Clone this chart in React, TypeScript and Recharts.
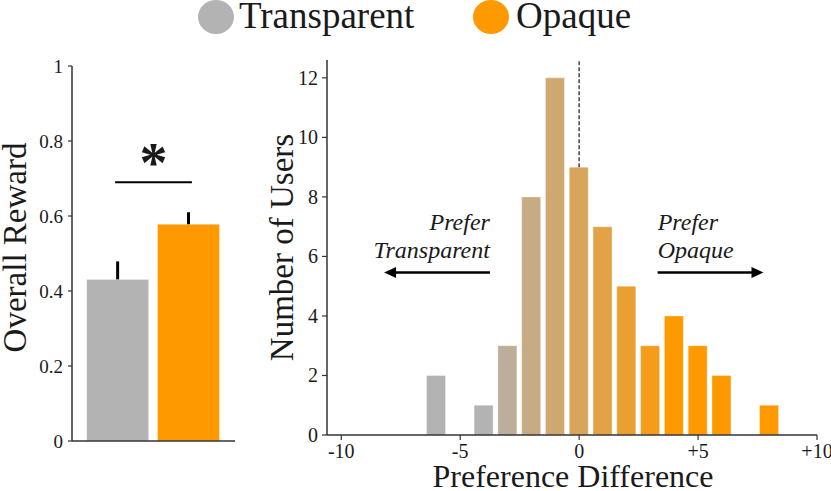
import React from 'react';
import {
  BarChart,
  Bar,
  XAxis,
  YAxis,
  Cell,
  ErrorBar,
  ReferenceLine,
  ReferenceDot,
  Label,
} from 'recharts';

// ---------- Left panel data ----------
const rewardConditions = ['Transparent', 'Opaque'];
const rewardPositions = [0, 1];
const rewardMeans = [0.431, 0.578];
const rewardErrors = [0.048, 0.032];
const rewardTicks = [0, 0.2, 0.4, 0.6, 0.8, 1];
const conditionColors = ['#b3b3b3', '#ff9900'];

// ---------- Right panel data ----------
const prefDiffs = [-6, -4, -3, -2, -1, 0, 1, 2, 3, 4, 5, 6, 8];
const userCounts = [2, 1, 3, 8, 12, 9, 7, 5, 3, 4, 3, 2, 1];
const histColors = [
  '#b3b3b3', '#b3b3b3', '#bcae98', '#c6ab84', '#cfa870', '#d9a55b',
  '#e2a245', '#eb9f31', '#f59c1b', '#ff9900', '#ff9900', '#ff9900', '#ff9900',
];
const prefTicks = [-10, -5, 0, 5, 10];
const userTicks = [0, 2, 4, 6, 8, 10, 12];

const rewardData = rewardPositions.map((x, i) => ({
  x,
  name: rewardConditions[i],
  mean: rewardMeans[i],
  err: [0, rewardErrors[i]],
}));

const histData = prefDiffs.map((d, i) => ({ d, count: userCounts[i] }));

const FONT = "'Liberation Serif', 'Times New Roman', serif";
const AXIS = '#333';
const TEXT = '#1a1a1a';

const textShape = (txt: string, anchor: 'start' | 'end' | 'middle', size: number, italic = true, bold = false) =>
  (p: any) => (
    <text
      x={p.cx}
      y={p.cy}
      textAnchor={anchor}
      fontSize={size}
      fontStyle={italic ? 'italic' : 'normal'}
      fontWeight={bold ? 'bold' : 'normal'}
      fill={TEXT}
      fontFamily={FONT}
    >
      {txt}
    </text>
  );

const arrowHead = (dir: 'left' | 'right') => (p: any) => {
  const s = dir === 'left' ? 1 : -1;
  const { cx, cy } = p;
  return (
    <polygon
      points={`${cx},${cy} ${cx + s * 12},${cy - 5.5} ${cx + s * 12},${cy + 5.5}`}
      fill="#000"
    />
  );
};

const yTick = (size: number, fmt: (v: number) => string) => (p: any) => (
  <text
    x={p.x}
    y={p.y}
    dy="0.35em"
    textAnchor="end"
    fontSize={size}
    fill={TEXT}
    fontFamily={FONT}
  >
    {fmt(p.payload.value)}
  </text>
);

const xTick = (size: number, fmt: (v: number) => string) => (p: any) => (
  <text
    x={p.x}
    y={p.y}
    dy="0.75em"
    textAnchor="middle"
    fontSize={size}
    fill={TEXT}
    fontFamily={FONT}
  >
    {fmt(p.payload.value)}
  </text>
);

const plain = (v: number) => String(v);
const signed = (v: number) => (v > 0 ? `+${v}` : String(v));

export default function App() {
  return (
    <div
      style={{
        position: 'absolute',
        left: 0,
        top: 0,
        width: 831,
        height: 491,
        background: '#fff',
        fontFamily: FONT,
        overflow: 'hidden',
      }}
    >
      {/* Legend */}
      <svg width={831} height={50} style={{ position: 'absolute', left: 0, top: 0 }}>
        <ellipse cx={216} cy={17} rx={18} ry={17} fill={conditionColors[0]} />
        <text x={239} y={28} fontSize={37} fill={TEXT} fontFamily={FONT}>
          {rewardConditions[0]}
        </text>
        <ellipse cx={491} cy={17} rx={18} ry={17} fill={conditionColors[1]} />
        <text x={516} y={28} fontSize={37} fill={TEXT} fontFamily={FONT}>
          {rewardConditions[1]}
        </text>
      </svg>

      {/* Left panel */}
      <div style={{ position: 'absolute', left: 0, top: 0 }}>
        <BarChart
          width={240}
          height={491}
          data={rewardData}
          margin={{ top: 66, right: 5, bottom: 0, left: 0 }}
        >
          <XAxis
            dataKey="x"
            type="number"
            domain={[-0.65, 1.65]}
            ticks={[]}
            tick={false}
            tickLine={false}
            height={50}
            axisLine={{ stroke: AXIS, strokeWidth: 1.5 }}
          />
          <YAxis
            type="number"
            domain={[0, 1]}
            ticks={rewardTicks}
            interval={0}
            width={72}
            tickSize={4}
            tickMargin={5}
            tick={yTick(19, plain)}
            axisLine={{ stroke: AXIS, strokeWidth: 1.5 }}
            tickLine={{ stroke: AXIS, strokeWidth: 1.2 }}
          >
            <Label
              content={(props: any) => {
                const vb = props.viewBox || { x: 0, y: 66, width: 72, height: 375 };
                const x = vb.x + 26;
                const y = vb.y + vb.height / 2 - 6;
                return (
                  <text
                    x={x}
                    y={y}
                    transform={`rotate(-90, ${x}, ${y})`}
                    textAnchor="middle"
                    fontSize={33}
                    fill={TEXT}
                    fontFamily={FONT}
                  >
                    Overall Reward
                  </text>
                );
              }}
            />
          </YAxis>
          <Bar dataKey="mean" barSize={62} isAnimationActive={false}>
            {rewardData.map((_, i) => (
              <Cell key={i} fill={conditionColors[i]} stroke="#ffffff" strokeOpacity={0.35} />
            ))}
            <ErrorBar dataKey="err" direction="y" width={0} stroke="#000" strokeWidth={3} isAnimationActive={false} />
          </Bar>
          <ReferenceLine
            segment={[
              { x: -0.042, y: 0.69 },
              { x: 1.042, y: 0.69 },
            ]}
            stroke="#000"
            strokeWidth={2}
          />
          <ReferenceDot x={0.5} y={0.69} r={0} shape={textShape('*', 'middle', 56, false, true)} />
        </BarChart>
      </div>

      {/* Right panel */}
      <div style={{ position: 'absolute', left: 240, top: 0 }}>
        <BarChart
          width={591}
          height={491}
          data={histData}
          margin={{ top: 60, right: 14, bottom: 0, left: 0 }}
        >
          <XAxis
            dataKey="d"
            type="number"
            domain={[-10.6, 10]}
            ticks={prefTicks}
            interval={0}
            height={56}
            tickSize={5}
            tickMargin={3}
            tick={xTick(20, signed)}
            axisLine={{ stroke: AXIS, strokeWidth: 1.5 }}
            tickLine={{ stroke: AXIS, strokeWidth: 1.2 }}
          >
            <Label
              content={(props: any) => {
                const vb = props.viewBox || { x: 87, y: 435, width: 490, height: 56 };
                return (
                  <text
                    x={vb.x + vb.width / 2 + 1}
                    y={vb.y + 52}
                    textAnchor="middle"
                    fontSize={32}
                    fill={TEXT}
                    fontFamily={FONT}
                  >
                    Preference Difference
                  </text>
                );
              }}
            />
          </XAxis>
          <YAxis
            type="number"
            domain={[0, 12.6]}
            ticks={userTicks}
            interval={0}
            width={87}
            tickSize={5}
            tickMargin={4}
            tick={yTick(20, plain)}
            axisLine={{ stroke: AXIS, strokeWidth: 1.5 }}
            tickLine={{ stroke: AXIS, strokeWidth: 1.2 }}
          >
            <Label
              content={(props: any) => {
                const vb = props.viewBox || { x: 0, y: 60, width: 87, height: 375 };
                const x = vb.x + 53;
                const y = vb.y + vb.height / 2;
                return (
                  <text
                    x={x}
                    y={y}
                    transform={`rotate(-90, ${x}, ${y})`}
                    textAnchor="middle"
                    fontSize={33}
                    fill={TEXT}
                    fontFamily={FONT}
                  >
                    Number of Users
                  </text>
                );
              }}
            />
          </YAxis>
          <ReferenceLine
            segment={[
              { x: 0, y: 9 },
              { x: 0, y: 12.6 },
            ]}
            stroke="#444"
            strokeWidth={1.5}
            strokeDasharray="4 2"
          />
          <Bar dataKey="count" barSize={19} isAnimationActive={false}>
            {histData.map((_, i) => (
              <Cell key={i} fill={histColors[i]} stroke="#ffffff" strokeOpacity={0.35} />
            ))}
          </Bar>

          {/* Prefer Transparent */}
          <ReferenceDot x={-3.75} y={6.9} r={0} shape={textShape('Prefer', 'end', 24)} />
          <ReferenceDot x={-3.75} y={5.96} r={0} shape={textShape('Transparent', 'end', 24)} />
          <ReferenceLine
            segment={[
              { x: -3.75, y: 5.46 },
              { x: -7.9, y: 5.46 },
            ]}
            stroke="#000"
            strokeWidth={2.5}
          />
          <ReferenceDot x={-8.2} y={5.46} r={0} shape={arrowHead('left')} />

          {/* Prefer Opaque */}
          <ReferenceDot x={3.3} y={6.9} r={0} shape={textShape('Prefer', 'start', 24)} />
          <ReferenceDot x={3.3} y={5.96} r={0} shape={textShape('Opaque', 'start', 24)} />
          <ReferenceLine
            segment={[
              { x: 3.3, y: 5.46 },
              { x: 7.45, y: 5.46 },
            ]}
            stroke="#000"
            strokeWidth={2.5}
          />
          <ReferenceDot x={7.75} y={5.46} r={0} shape={arrowHead('right')} />
        </BarChart>
      </div>
    </div>
  );
}
